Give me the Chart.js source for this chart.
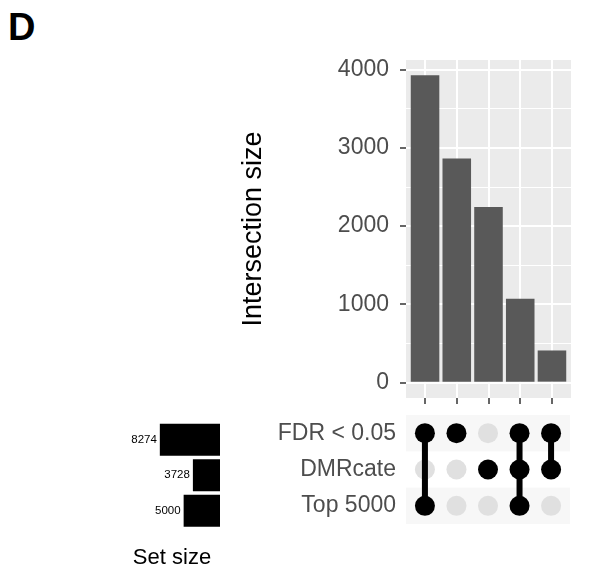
<!DOCTYPE html>
<html>
<head>
<meta charset="utf-8">
<title>UpSet - DMR overlap</title>
<script src="https://cdn.jsdelivr.net/npm/chart.js"></script>
<style>
 body {
    margin: 0;
    width: 589px;
    height: 574px;
    background: white;
    position: relative;
    overflow: hidden;
    font-family: "Liberation Sans", Arial, sans-serif;
 }
 #tag {
    position: absolute;
    left: 8px;
    top: 8px;
    font-size: 38px;
    line-height: 38px;
    font-weight: bold;
    color: #000;
 }
 canvas { position: absolute; }
 #bars { left: 230px; top: 40px; }
 #matrix { left: 230px; top: 405px; }
 #sets { left: 100px; top: 400px; }
</style>
</head>
<body>
<div id="tag">D</div>
<canvas id="bars" width="350" height="380"></canvas>
<canvas id="matrix" width="350" height="130"></canvas>
<canvas id="sets" width="140" height="174"></canvas>
<script>
// sets, top to bottom
const setNames = ['FDR < 0.05', 'DMRcate', 'Top 5000'];
const setSizes = [8274, 3728, 5000];

// one column per intersection: 1 = set is part of it
const fdrIn     = [1, 1, 0, 1, 1];
const dmrcateIn = [0, 0, 1, 1, 1];
const top5000In = [1, 0, 0, 1, 0];
const membership = [fdrIn, dmrcateIn, top5000In];

const intersectionSizes = [3927, 2863, 2244, 1073, 411];

const yMajorTicks = [0, 1000, 2000, 3000, 4000];
const yMinorTicks = [500, 1500, 2500, 3500];

Chart.defaults.font.family = '"Liberation Sans", Arial, sans-serif';

const FONT_AXIS = { size: 23 };
const TEXT_GREY = '#4D4D4D';
const colIdx = intersectionSizes.map((v, i) => i);
const xRange = { min: -0.6, max: colIdx.length - 0.4 };

// keep big tick labels from pushing the plot area around
const fixWidth = w => s => { s.width = w; s.paddingTop = 0; s.paddingBottom = 0; };

// grey panel behind the bars
const panelBg = {
    id: 'panelBg',
    beforeDraw(chart) {
        const a = chart.chartArea, ctx = chart.ctx;
        ctx.save();
        ctx.fillStyle = '#EBEBEB';
        ctx.fillRect(a.left, a.top, a.right - a.left, a.bottom - a.top);
        ctx.restore();
    }
};

// alternate row shading in the dot matrix
const rowStripes = {
    id: 'rowStripes',
    beforeDraw(chart) {
        const a = chart.chartArea, ctx = chart.ctx, y = chart.scales.y;
        ctx.save();
        ctx.fillStyle = '#F7F7F7';
        setNames.forEach((n, r) => {
            if (r % 2) return;
            const y0 = y.getPixelForValue(r - 0.5), y1 = y.getPixelForValue(r + 0.5);
            ctx.fillRect(a.left, Math.min(y0, y1), a.right - a.left, Math.abs(y1 - y0));
        });
        ctx.restore();
    }
};

// numbers next to the set size bars
const sizeLabels = {
    id: 'sizeLabels',
    afterDatasetsDraw(chart) {
        const ctx = chart.ctx;
        ctx.save();
        ctx.font = '11.5px "Liberation Sans", Arial, sans-serif';
        ctx.fillStyle = '#000';
        ctx.textAlign = 'right';
        ctx.textBaseline = 'middle';
        chart.getDatasetMeta(0).data.forEach((bar, i) => {
            ctx.fillText(String(setSizes[i]), bar.x - 3, bar.y);
        });
        ctx.restore();
    }
};

// intersection size bars
new Chart(document.getElementById('bars'), {
    type: 'bar',
    data: {
        datasets: [{
            data: intersectionSizes.map((v, i) => ({ x: i, y: v })),
            backgroundColor: '#595959',
            barPercentage: 0.9,
            categoryPercentage: 1
        }]
    },
    options: {
        responsive: false,
        animation: false,
        events: [],
        layout: { padding: { left: 0, top: 20, right: 9, bottom: 0 } },
        plugins: { legend: { display: false }, tooltip: { enabled: false } },
        scales: {
            x: {
                type: 'linear',
                offset: false,
                min: xRange.min,
                max: xRange.max,
                afterBuildTicks: s => { s.ticks = colIdx.map(i => ({ value: i })); },
                afterFit: s => { s.height = 22; s.paddingLeft = 0; s.paddingRight = 0; },
                ticks: { callback: () => '' },
                border: { display: false },
                grid: { offset: false, color: '#FFFFFF', lineWidth: 2, tickColor: '#333333', tickLength: 6, tickWidth: 1.5 }
            },
            y: {
                min: -0.05 * intersectionSizes[0],
                max: 1.05 * intersectionSizes[0],
                afterBuildTicks: s => {
                    s.ticks = yMajorTicks.concat(yMinorTicks).sort((a, b) => a - b).map(v => ({ value: v }));
                },
                afterFit: fixWidth(176),
                ticks: {
                    font: FONT_AXIS,
                    color: TEXT_GREY,
                    padding: 11,
                    callback: v => yMajorTicks.includes(v) ? String(v) : ''
                },
                border: { display: false },
                grid: {
                    color: '#FFFFFF',
                    lineWidth: c => yMajorTicks.includes(c.tick.value) ? 2 : 1,
                    tickColor: c => yMajorTicks.includes(c.tick.value) ? '#333333' : 'rgba(0,0,0,0)',
                    tickLength: 6,
                    tickWidth: 1.5
                },
                title: {
                    display: true,
                    text: 'Intersection size',
                    color: '#000',
                    font: { size: 27 },
                    padding: { top: 7, bottom: 0 }
                }
            }
        }
    },
    plugins: [panelBg]
});

// dot matrix: grey = not in set, black = in set, bars join the sets of one column
const offDots = [], onDots = [], links = [];
membership.forEach((row, r) => row.forEach((m, c) => (m ? onDots : offDots).push({ x: c, y: r })));
colIdx.forEach(c => {
    const rows = membership.map((row, r) => row[c] ? r : -1).filter(r => r >= 0);
    if (rows.length < 2) return;
    links.push({
        data: [{ x: c, y: Math.min(...rows) }, { x: c, y: Math.max(...rows) }],
        showLine: true,
        borderColor: '#000',
        borderWidth: 6,
        pointRadius: 0,
        order: 1
    });
});

new Chart(document.getElementById('matrix'), {
    type: 'scatter',
    data: {
        datasets: [
            { data: onDots, pointRadius: 10, pointBackgroundColor: '#000', pointBorderWidth: 0, order: 0 },
            ...links,
            { data: offDots, pointRadius: 10, pointBackgroundColor: '#E0E0E0', pointBorderWidth: 0, order: 2 }
        ]
    },
    options: {
        responsive: false,
        animation: false,
        events: [],
        layout: { padding: { left: 0, top: 8.3, right: 9, bottom: 11 } },
        plugins: { legend: { display: false }, tooltip: { enabled: false } },
        scales: {
            x: { type: 'linear', display: false, min: xRange.min, max: xRange.max },
            y: {
                type: 'linear',
                reverse: true,
                min: -0.5,
                max: setNames.length - 0.5,
                afterBuildTicks: s => { s.ticks = setNames.map((n, i) => ({ value: i })); },
                afterFit: fixWidth(176),
                ticks: { font: FONT_AXIS, color: TEXT_GREY, padding: 10, callback: v => setNames[v] },
                border: { display: false },
                grid: { display: false, drawTicks: false }
            }
        }
    },
    plugins: [rowStripes]
});

// set sizes, growing to the left
new Chart(document.getElementById('sets'), {
    type: 'bar',
    data: {
        labels: setNames,
        datasets: [{
            data: setSizes,
            backgroundColor: '#000',
            barPercentage: 0.9,
            categoryPercentage: 1
        }]
    },
    options: {
        indexAxis: 'y',
        responsive: false,
        animation: false,
        events: [],
        layout: { padding: { left: 24, top: 22, right: 20, bottom: 0 } },
        plugins: { legend: { display: false }, tooltip: { enabled: false } },
        scales: {
            x: {
                reverse: true,
                min: 0,
                max: 13200,
                afterFit: s => { s.height = 45.5; },
                ticks: { display: false },
                border: { display: false },
                grid: { display: false, drawTicks: false },
                title: {
                    display: true,
                    text: 'Set size',
                    color: '#000',
                    font: { size: 22 },
                    padding: { top: 0, bottom: 3 }
                }
            },
            y: { display: false }
        }
    },
    plugins: [sizeLabels]
});
</script>
</body>
</html>
